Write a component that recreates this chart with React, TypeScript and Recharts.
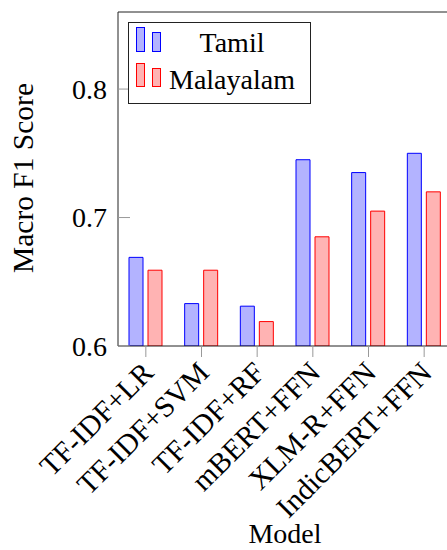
import { BarChart, Bar, XAxis, YAxis, Legend } from "recharts";

const models = [
  "TF-IDF+LR",
  "TF-IDF+SVM",
  "TF-IDF+RF",
  "mBERT+FFN",
  "XLM-R+FFN",
  "IndicBERT+FFN",
];
const tamilScores = [0.669, 0.633, 0.631, 0.745, 0.735, 0.75];
const malayalamScores = [0.659, 0.659, 0.619, 0.685, 0.705, 0.72];
const yTicks = [0.6, 0.7, 0.8];

const data = models.map((model, i) => ({
  model,
  tamil: tamilScores[i],
  malayalam: malayalamScores[i],
}));

const FONT = "'Liberation Serif', 'Times New Roman', serif";
const FS = 28;
const AXIS = "#222";
const TICK = "#999";

function ModelTick(props: any) {
  const { x, y, payload } = props;
  return (
    <text
      transform={`translate(${x + 2},${y + 8}) rotate(-45)`}
      textAnchor="end"
      dy="0.35em"
      fontFamily={FONT}
      fontSize={29.5}
      fill="#000"
    >
      {payload.value}
    </text>
  );
}

function LegendBox() {
  return (
    <svg width={183} height={82} style={{ display: "block" }}>
      <rect x={0.5} y={0.5} width={182} height={81} fill="#fff" stroke={AXIS} />
      <rect x={8.5} y={5.5} width={8} height={24} fill="#b3b3ff" stroke="#0000ff" />
      <rect x={24.5} y={10.5} width={8} height={19} fill="#b3b3ff" stroke="#0000ff" />
      <text x={104} y={30} textAnchor="middle" fontFamily={FONT} fontSize={FS}>
        Tamil
      </text>
      <rect x={8.5} y={41.5} width={8} height={23} fill="#ffb3b3" stroke="#ff0000" />
      <rect x={24.5} y={46.5} width={8} height={18} fill="#ffb3b3" stroke="#ff0000" />
      <text x={104} y={67} textAnchor="middle" fontFamily={FONT} fontSize={FS}>
        Malayalam
      </text>
    </svg>
  );
}

export default function App() {
  return (
    <div
      style={{
        position: "absolute",
        left: 0,
        top: 0,
        width: 447,
        height: 550,
        overflow: "hidden",
        background: "#fff",
      }}
    >
      <BarChart
        width={461}
        height={550}
        data={data}
        barGap={5}
        barCategoryGap={0}
        margin={{ top: 0, right: 8, bottom: 0, left: 0 }}
      >
        <XAxis
          dataKey="model"
          type="category"
          height={204}
          tickSize={11}
          tickLine={{ stroke: TICK }}
          axisLine={{ stroke: AXIS }}
          interval={0}
          tick={<ModelTick />}
          label={{
            content: (p: any) => {
              const vb = p.viewBox;
              return (
                <text
                  x={vb.x + vb.width / 2}
                  y={543}
                  textAnchor="middle"
                  fontFamily={FONT}
                  fontSize={FS}
                >
                  Model
                </text>
              );
            },
          }}
        />
        <XAxis
          xAxisId="top"
          orientation="top"
          dataKey="model"
          type="category"
          height={12}
          tickSize={12}
          tick={false}
          tickLine={{ stroke: TICK }}
          axisLine={{ stroke: AXIS }}
          interval={0}
        />
        <YAxis
          width={118}
          domain={[0.6, 0.86]}
          ticks={yTicks}
          allowDataOverflow
          tickSize={-12}
          tickMargin={23}
          tickLine={{ stroke: TICK }}
          axisLine={{ stroke: AXIS }}
          tickFormatter={(v: number) => v.toFixed(1)}
          tick={{ fill: "#000", fontFamily: FONT, fontSize: FS }}
          label={{
            content: (p: any) => {
              const vb = p.viewBox;
              const cy = vb.y + vb.height / 2 - 1;
              return (
                <text
                  x={33}
                  y={cy}
                  transform={`rotate(-90 33 ${cy})`}
                  textAnchor="middle"
                  fontFamily={FONT}
                  fontSize={29.5}
                >
                  Macro F1 Score
                </text>
              );
            },
          }}
        />
        <YAxis
          yAxisId="right"
          orientation="right"
          width={1}
          domain={[0.6, 0.86]}
          ticks={yTicks}
          tickSize={-12}
          tick={false}
          tickLine={{ stroke: TICK }}
          axisLine={{ stroke: AXIS }}
        />
        <Legend
          layout="horizontal"
          verticalAlign="middle"
          align="center"
          content={() => <LegendBox />}
          wrapperStyle={{ left: 128, top: 22, width: 183, height: 82 }}
        />
        <Bar
          dataKey="tamil"
          name="Tamil"
          barSize={14}
          fill="#b3b3ff"
          stroke="#0000ff"
          strokeWidth={1}
          isAnimationActive={false}
        />
        <Bar
          dataKey="malayalam"
          name="Malayalam"
          barSize={14}
          fill="#ffb3b3"
          stroke="#ff0000"
          strokeWidth={1}
          isAnimationActive={false}
        />
      </BarChart>
    </div>
  );
}
